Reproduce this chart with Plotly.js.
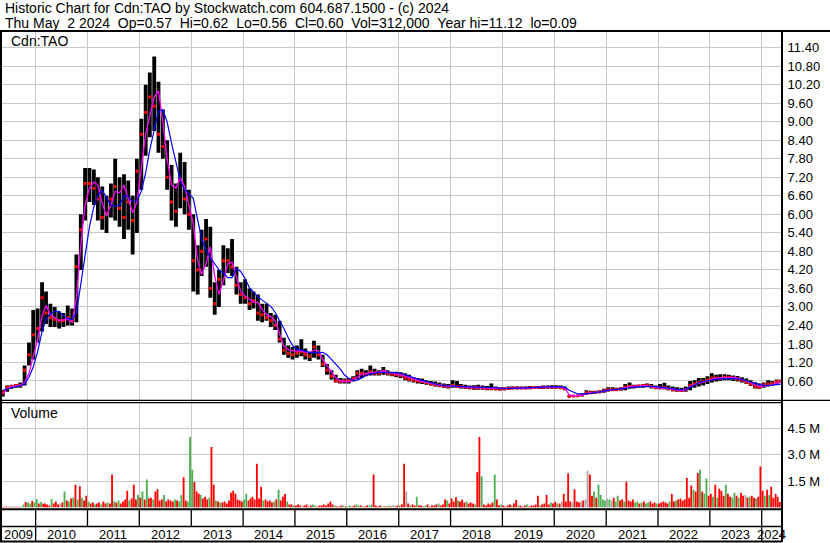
<!DOCTYPE html>
<html><head><meta charset="utf-8">
<script src="https://cdn.plot.ly/plotly-3.0.1.min.js"></script>
<style>html,body{margin:0;padding:0;background:#fff;}#chart{width:830px;height:543px;}</style>
</head><body><div id="chart"></div>
<script>
// Monthly bars, May 2009 .. May 2024
const priceHigh = [
 0.30,0.45,0.48,0.50,0.55,1.10,1.85,2.90,
 2.95,3.80,3.50,3.10,3.00,2.85,2.80,3.05,2.95,4.70,6.00,7.50,
 7.50,7.45,7.20,6.90,6.60,7.00,7.80,7.20,7.30,7.10,6.60,7.80,
 9.10,10.20,10.60,11.12,10.30,9.40,8.40,7.60,7.00,8.00,7.70,6.80,
 6.00,5.00,5.50,5.85,5.60,3.80,4.20,5.00,4.90,5.20,4.30,3.80,
 3.90,3.60,3.50,3.40,3.10,3.10,2.80,2.75,2.55,2.00,1.75,1.70,
 1.75,1.95,1.65,1.55,1.90,1.75,1.45,1.15,0.95,0.80,0.70,0.68,
 0.70,0.75,0.95,1.00,0.95,1.10,1.00,0.95,1.05,0.95,0.90,0.90,
 0.88,0.85,0.80,0.72,0.70,0.68,0.62,0.60,0.58,0.55,0.52,0.50,
 0.62,0.60,0.50,0.48,0.45,0.46,0.48,0.45,0.44,0.52,0.42,0.40,
 0.40,0.42,0.42,0.42,0.42,0.42,0.44,0.44,0.44,0.45,0.45,0.46,
 0.46,0.45,0.42,0.13,0.12,0.13,0.20,0.30,0.28,0.28,0.30,0.35,
 0.40,0.40,0.38,0.40,0.50,0.55,0.48,0.48,0.50,0.52,0.50,0.45,
 0.50,0.54,0.45,0.42,0.40,0.38,0.42,0.60,0.62,0.70,0.70,0.75,
 0.85,0.80,0.82,0.82,0.80,0.78,0.76,0.72,0.68,0.62,0.56,0.52,
 0.55,0.62,0.60,0.65,0.62];
const priceLow = [
 0.10,0.25,0.35,0.38,0.38,0.45,1.10,1.30,
 1.85,2.20,2.45,2.35,2.35,2.30,2.35,2.40,2.40,2.50,4.20,5.80,
 6.40,6.30,5.80,5.50,5.40,5.90,5.80,5.60,5.20,5.50,4.70,5.40,
 6.80,7.90,8.50,8.70,8.00,7.80,6.80,5.80,5.60,6.20,6.00,5.50,
 3.50,3.40,4.00,4.30,3.30,2.75,3.00,3.70,4.10,4.00,3.40,3.10,
 3.10,2.90,2.95,2.55,2.50,2.55,2.35,2.25,1.85,1.45,1.35,1.30,
 1.35,1.40,1.30,1.25,1.35,1.30,1.05,0.80,0.65,0.55,0.52,0.52,
 0.52,0.58,0.65,0.70,0.75,0.78,0.78,0.78,0.80,0.78,0.75,0.72,
 0.70,0.62,0.58,0.55,0.52,0.50,0.48,0.45,0.42,0.40,0.38,0.36,
 0.38,0.38,0.36,0.34,0.33,0.32,0.32,0.32,0.30,0.30,0.30,0.29,
 0.30,0.32,0.33,0.33,0.33,0.33,0.33,0.34,0.34,0.34,0.35,0.35,
 0.35,0.34,0.30,0.09,0.09,0.10,0.10,0.15,0.18,0.19,0.20,0.22,
 0.26,0.28,0.28,0.29,0.30,0.35,0.36,0.38,0.38,0.40,0.36,0.34,
 0.33,0.33,0.30,0.27,0.25,0.24,0.25,0.30,0.38,0.42,0.45,0.50,
 0.55,0.58,0.60,0.62,0.62,0.60,0.58,0.55,0.50,0.44,0.36,0.35,
 0.38,0.42,0.45,0.48,0.56];
const priceClose = [
 0.22,0.40,0.42,0.45,0.45,0.95,1.45,2.10,
 2.30,3.30,2.80,2.65,2.60,2.55,2.55,2.65,2.55,4.30,5.50,7.00,
 7.00,6.85,6.50,5.90,6.00,6.50,6.90,6.20,5.90,6.40,5.80,7.40,
 8.60,9.30,9.80,9.50,8.60,8.20,7.20,6.40,6.10,7.10,6.50,6.00,
 4.50,4.20,4.80,5.20,3.60,3.10,3.90,4.50,4.50,4.30,3.70,3.40,
 3.30,3.10,3.20,2.80,2.75,2.65,2.55,2.40,1.95,1.60,1.50,1.45,
 1.50,1.55,1.45,1.40,1.70,1.45,1.15,0.95,0.75,0.60,0.58,0.60,
 0.62,0.68,0.85,0.85,0.82,0.90,0.85,0.85,0.90,0.85,0.82,0.80,
 0.78,0.70,0.65,0.62,0.60,0.58,0.55,0.50,0.48,0.46,0.44,0.42,
 0.45,0.42,0.42,0.40,0.38,0.38,0.38,0.37,0.36,0.36,0.35,0.34,
 0.35,0.36,0.37,0.37,0.37,0.37,0.38,0.39,0.39,0.40,0.40,0.40,
 0.40,0.38,0.36,0.10,0.11,0.12,0.15,0.22,0.22,0.23,0.25,0.28,
 0.32,0.32,0.32,0.34,0.40,0.42,0.42,0.44,0.45,0.46,0.42,0.38,
 0.38,0.38,0.35,0.32,0.30,0.29,0.32,0.45,0.50,0.55,0.58,0.62,
 0.70,0.70,0.68,0.72,0.72,0.70,0.66,0.62,0.56,0.50,0.42,0.40,
 0.48,0.50,0.52,0.58,0.60];
const maShort = [
 0.18,0.35,0.42,0.44,0.45,0.55,0.85,1.40,
 1.95,2.70,3.05,2.75,2.67,2.56,2.58,2.60,2.50,3.30,5.00,6.30,
 6.85,7.05,6.95,6.35,5.95,6.30,6.75,6.70,6.95,6.50,6.05,6.40,
 7.60,8.60,9.20,9.80,10.00,9.00,7.80,6.95,6.85,7.20,6.90,6.30,
 5.70,4.50,4.05,4.40,4.95,4.00,3.40,3.85,4.40,4.45,4.00,3.50,
 3.35,3.25,3.15,3.15,2.92,2.75,2.68,2.55,2.10,1.72,1.62,1.58,
 1.57,1.58,1.53,1.52,1.60,1.58,1.30,1.10,0.92,0.70,0.60,0.58,
 0.58,0.62,0.72,0.82,0.85,0.86,0.88,0.90,0.93,0.90,0.86,0.83,
 0.80,0.76,0.72,0.67,0.62,0.58,0.56,0.52,0.49,0.46,0.44,0.43,
 0.44,0.43,0.41,0.40,0.39,0.38,0.38,0.38,0.37,0.37,0.36,0.35,
 0.35,0.36,0.37,0.37,0.37,0.37,0.38,0.39,0.39,0.40,0.40,0.40,
 0.40,0.39,0.38,0.15,0.12,0.12,0.14,0.19,0.22,0.23,0.24,0.27,
 0.30,0.32,0.32,0.34,0.38,0.42,0.43,0.44,0.45,0.45,0.41,0.38,
 0.37,0.37,0.35,0.33,0.31,0.29,0.30,0.42,0.48,0.53,0.56,0.60,
 0.66,0.69,0.70,0.71,0.72,0.72,0.70,0.66,0.60,0.55,0.47,0.43,
 0.43,0.45,0.48,0.53,0.57];
const maLong = [
 0.30,0.33,0.38,0.42,0.44,0.50,0.72,1.05,
 1.55,2.20,2.60,2.78,2.86,2.86,2.72,2.62,2.60,2.80,3.70,4.55,
 5.60,6.25,6.62,6.78,6.55,6.30,6.26,6.30,6.60,6.58,6.42,6.45,
 6.75,7.35,8.10,8.75,9.35,9.39,9.00,8.31,7.65,7.10,6.80,6.68,
 6.52,5.80,5.20,4.85,4.60,4.40,4.20,4.10,3.95,3.95,4.24,4.15,
 3.92,3.62,3.48,3.33,3.22,3.12,3.02,2.82,2.58,2.30,2.00,1.75,
 1.64,1.60,1.57,1.53,1.52,1.51,1.53,1.45,1.30,1.15,0.99,0.80,
 0.68,0.62,0.63,0.70,0.78,0.83,0.86,0.88,0.88,0.88,0.87,0.86,
 0.85,0.80,0.74,0.70,0.66,0.62,0.58,0.54,0.50,0.47,0.45,0.44,
 0.43,0.43,0.42,0.41,0.40,0.40,0.40,0.40,0.39,0.39,0.38,0.37,
 0.36,0.36,0.36,0.37,0.37,0.38,0.38,0.39,0.40,0.41,0.41,0.42,
 0.42,0.41,0.40,0.30,0.25,0.18,0.18,0.18,0.20,0.22,0.25,0.28,
 0.30,0.32,0.33,0.34,0.36,0.38,0.40,0.41,0.42,0.43,0.43,0.42,
 0.40,0.38,0.36,0.34,0.32,0.31,0.32,0.40,0.48,0.54,0.58,0.61,
 0.64,0.66,0.67,0.68,0.68,0.68,0.67,0.65,0.60,0.56,0.52,0.48,
 0.46,0.45,0.46,0.48,0.50];

// Volume (millions), two bars per month (first / second half), May 2009 .. May 2024
const volume = [
 0.04,0.04, 0.05,0.04, 0.04,0.04, 0.05,0.04, 0.04,0.05, 0.17,0.32, 0.28,0.23, 0.37,0.28,
 0.49,0.23, 0.32,0.21, 0.23,0.17, 0.12,0.49, 0.23,0.34, 0.17,0.23, 0.28,0.91, 0.40,0.34, 0.51,0.56, 1.30,0.45, 1.21,0.56, 0.40,0.67,
 0.34,0.23, 0.28,0.17, 0.23,0.28, 0.17,0.34, 0.23,0.28, 0.23,1.88, 0.34,0.28, 0.40,0.23, 0.34,0.45, 0.95,0.40, 0.51,1.30, 0.45,0.72,
 0.56,0.91, 0.45,1.59, 0.51,0.56, 0.45,0.91, 1.04,0.40, 0.45,0.72, 0.34,0.45, 0.40,0.34, 0.45,0.40, 0.34,0.72, 1.72,0.40, 0.34,4.02,
 2.16,1.46, 0.91,0.79, 0.72,0.51, 0.62,0.45, 0.56,3.45, 1.30,0.40, 0.34,0.28, 0.28,0.34, 0.23,0.40, 0.84,0.95, 0.79,0.45, 0.40,0.34,
 0.45,0.77, 0.40,0.51, 0.62,0.45, 2.50,0.51, 1.18,0.40, 0.45,0.34, 0.40,0.28, 0.34,0.45, 1.01,0.40, 0.62,0.77, 0.34,0.17, 0.17,0.12,
 0.12,0.17, 0.12,0.06, 0.12,0.17, 0.06,0.12, 0.17,0.12, 0.06,0.12, 0.12,0.17, 0.12,0.23, 0.34,0.17, 0.12,0.06, 0.06,0.12, 0.12,0.06,
 0.06,0.12, 0.06,0.12, 0.17,0.12, 0.12,0.06, 0.06,0.12, 0.12,0.17, 1.88,0.12, 0.06,0.12, 0.06,0.05, 0.06,0.12, 0.06,0.14, 0.06,0.12,
 0.12,0.17, 2.50,0.91, 0.23,0.12, 0.17,0.12, 0.62,0.12, 0.12,0.06, 0.12,0.17, 0.06,0.12, 0.12,0.17, 0.23,0.12, 0.17,0.45, 0.40,0.23,
 0.51,0.34, 0.59,0.40, 0.34,0.45, 0.28,0.34, 0.23,0.28, 0.23,0.17, 2.01,4.02, 1.78,0.17, 0.12,0.23, 0.17,0.28, 1.88,0.45, 0.12,0.17,
 0.12,0.06, 0.12,0.17, 0.12,0.23, 0.43,0.12, 0.12,0.06, 0.12,0.17, 0.06,0.12, 0.12,0.17, 0.67,0.12, 0.17,0.23, 0.72,0.17, 0.28,0.23,
 0.32,0.23, 0.23,0.34, 0.77,0.34, 1.94,0.34, 0.28,1.04, 0.34,0.28, 0.34,0.40, 0.45,2.10, 1.88,0.67, 0.91,0.56, 1.30,0.72, 0.45,0.40,
 0.51,0.45, 0.40,0.56, 0.34,0.67, 0.40,0.45, 0.34,1.46, 0.40,0.34, 0.45,0.28, 0.34,0.23, 0.28,0.34, 0.23,0.28, 0.34,0.23, 0.28,0.23,
 0.23,0.28, 0.34,0.28, 0.23,0.34, 0.77,0.34, 0.40,0.45, 0.51,0.40, 0.45,1.68, 0.56,1.25, 1.01,0.91, 1.97,2.16, 0.91,0.79, 1.65,0.67,
 0.79,0.62, 1.30,0.56, 1.07,0.95, 0.67,1.30, 0.79,0.62, 0.56,0.84, 0.67,0.56, 0.83,0.67, 0.72,0.56, 0.62,0.67, 0.56,0.51, 0.62,2.34,
 0.95,0.67, 1.01,0.72, 1.18,0.56, 0.77,0.62, 0.31];
// u = up day (green), d = down day (red), n = unchanged (grey); one letter per volume bar
const volumeDirection = [
 "udduddudduuduud",
 "u",
 "ududdddudddndududududu",
 "ddudduddudduddududdddudd",
 "dudududduddddudddduduudd",
 "uuuddduddduddududdddddddd",
 "duuddddddduddddududdduddud",
 "ddudddduuddddddddudddudu",
 "udduududduudddduddudndd",
 "uddnduddudddudddddudddudddd",
 "udddudddudduddddduddudddd",
 "uddudddudddddudddduddudnd",
 "dddndddndnndduduuuunundu",
 "uddudddduududuudddudddddu",
 "ddudddddddudduduuddududddud",
 "duududdnduddudddududdddd",
 "ududududu"].join('');

const priceTickVals = [0.6,1.2,1.8,2.4,3.0,3.6,4.2,4.8,5.4,6.0,6.6,7.2,7.8,8.4,9.0,9.6,10.2,10.8,11.4];
const priceTickText = ['0.60','1.20','1.80','2.40','3.00','3.60','4.20','4.80','5.40','6.00','6.60','7.20','7.80','8.40','9.00','9.60','10.20','10.80','11.40'];
const volTickVals = [1.5,3.0,4.5];
const volTickText = ['1.5 M','3.0 M','4.5 M'];
const yearLabels = ['2009','2010','2011','2012','2013','2014','2015','2016','2017','2018','2019','2020','2021','2022','2023','2024'];

const headerLine1 = 'Historic Chart for Cdn:TAO by Stockwatch.com 604.687.1500 - (c) 2024';
const headerLine2 = 'Thu May&nbsp;&nbsp;2 2024&nbsp;&nbsp;Op=0.57&nbsp;&nbsp;Hi=0.62&nbsp;&nbsp;Lo=0.56&nbsp;&nbsp;Cl=0.60&nbsp;&nbsp;Vol=312,000&nbsp;&nbsp;Year hi=11.12&nbsp;&nbsp;lo=0.09';

// ---------- drawing ----------
const X0 = '2009-05-09', X1 = '2024-05-23';
function pad(n){return String(n).padStart(2,'0');}
function monthDate(i, day){
  const t = 4 + i; const y = 2009 + Math.floor(t/12); const m = t%12 + 1;
  return y + '-' + pad(m) + '-' + pad(day);
}
const months = priceHigh.map((_, i) => monthDate(i, 15));
const volDates = volume.map((_, h) => monthDate(Math.floor(h/2), h%2 ? 23 : 8));
const dayMs = 86400000;

// paper coordinate helpers (plot area: x 2..782, y 32..509)
const L = 2, R = 782, T = 32, B = 509;
const px = x => (x - L) / (R - L);
const py = y => (B - y) / (B - T);

const dirColors = {u:'#4caf50', d:'#ff0000', n:'#a8a8a8'};
const volColors = volume.map((_, i) => dirColors[volumeDirection[i]] || '#ff0000');

const traces = [
  {type:'bar', x:months, base:priceLow, y:priceHigh.map((h,i)=>h-priceLow[i]),
   width:27*dayMs, marker:{color:'#000', line:{width:0}}, xaxis:'x', yaxis:'y', hoverinfo:'skip'},
  {type:'scatter', mode:'markers', x:months, y:priceClose,
   marker:{symbol:'square', size:3, color:'#ff0000'}, xaxis:'x', yaxis:'y', hoverinfo:'skip'},
  {type:'scatter', mode:'lines', x:months, y:maShort, line:{color:'#ff00ff', width:1.3}, xaxis:'x', yaxis:'y', hoverinfo:'skip'},
  {type:'scatter', mode:'lines', x:months, y:maLong, line:{color:'#0000ff', width:1.2}, xaxis:'x', yaxis:'y', hoverinfo:'skip'},
  {type:'bar', x:volDates, y:volume, width:13*dayMs, marker:{color:volColors, line:{width:0}},
   xaxis:'x', yaxis:'y2', hoverinfo:'skip'}
];

const shapes = [];
function hline(y, x0, x1, w){ shapes.push({type:'line', xref:'paper', yref:'paper', x0:px(x0), x1:px(x1), y0:py(y), y1:py(y), line:{color:'#000', width:w}, layer:'above'}); }
function vline(x, y0, y1, w){ shapes.push({type:'line', xref:'paper', yref:'paper', x0:px(x), x1:px(x), y0:py(y0), y1:py(y1), line:{color:'#000', width:w}, layer:'above'}); }
hline(31, 0, 830, 2);
vline(1, 31, 542, 2);
vline(782, 31, 542, 2);
hline(400.3, 0, 830, 1.3);
hline(402.7, 0, 782, 1.3);
hline(509.3, 0, 782, 2);
hline(526.5, 0, 782, 1.5);
hline(541.5, 0, 782, 2);
for (let y = 2010; y <= 2024; y++) {
  const long = (y === 2010 || y === 2024);
  shapes.push({type:'line', xref:'x', yref:'paper', x0:y+'-01-01', x1:y+'-01-01',
    y0:py(510), y1:py(long ? 541 : 526.5), line:{color:'#000', width:1.3}, layer:'above'});
}

const font = 'Liberation Sans, Arial, sans-serif';
const annotations = [
  {text:headerLine1, xref:'paper', yref:'paper', x:px(3), y:py(8), xanchor:'left', yanchor:'middle', showarrow:false, font:{family:font, size:14, color:'#000'}},
  {text:headerLine2, xref:'paper', yref:'paper', x:px(3), y:py(22.5), xanchor:'left', yanchor:'middle', showarrow:false, font:{family:font, size:14, color:'#000'}},
  {text:'Cdn:TAO', xref:'paper', yref:'paper', x:px(9), y:py(41), xanchor:'left', yanchor:'middle', showarrow:false, font:{family:font, size:14, color:'#000'}},
  {text:'Volume', xref:'paper', yref:'paper', x:px(9), y:py(413), xanchor:'left', yanchor:'middle', showarrow:false, font:{family:font, size:14, color:'#000'}}
];
const t0 = Date.parse(X0), t1 = Date.parse(X1);
yearLabels.forEach(lbl => {
  const a = Math.max(Date.parse(lbl + '-01-01'), t0);
  const b = Math.min(Date.parse((+lbl + 1) + '-01-01'), t1);
  annotations.push({text:lbl, xref:'x', yref:'paper', x:new Date((a+b)/2).toISOString().slice(0,10),
    y:py(534.5), xanchor:'center', yanchor:'middle', showarrow:false, font:{family:font, size:13, color:'#000'}});
});

const grid = '#c8c8c8';
const layout = {
  width:830, height:543, margin:{l:L, r:830-R, t:T, b:543-B, pad:0},
  paper_bgcolor:'#fff', plot_bgcolor:'#fff', showlegend:false, barmode:'overlay',
  font:{family:font, size:12.5, color:'#000'},
  xaxis:{type:'date', range:[X0, X1], domain:[0,1], anchor:'y2', showgrid:true, gridcolor:grid, gridwidth:1,
         tick0:'2010-01-01', dtick:'M12', showticklabels:false, ticks:'', showline:false, zeroline:false, fixedrange:true},
  yaxis:{domain:[py(399.5), 1], range:[0, 11.91], side:'right', anchor:'x', tickvals:priceTickVals, ticktext:priceTickText,
         showgrid:true, gridcolor:grid, gridwidth:1, zeroline:false, showline:false, ticks:'outside', ticklen:2,
         tickcolor:'rgba(0,0,0,0)', tickfont:{family:font, size:13, color:'#000'}, fixedrange:true},
  yaxis2:{domain:[py(507.5), py(403)], range:[0, 5.96], side:'right', anchor:'x', tickvals:volTickVals, ticktext:volTickText,
         showgrid:true, gridcolor:grid, gridwidth:1, zeroline:false, showline:false, ticks:'outside', ticklen:2,
         tickcolor:'rgba(0,0,0,0)', tickfont:{family:font, size:13, color:'#000'}, fixedrange:true},
  shapes:shapes, annotations:annotations
};
Plotly.newPlot('chart', traces, layout, {displayModeBar:false, staticPlot:true});
</script></body></html>
